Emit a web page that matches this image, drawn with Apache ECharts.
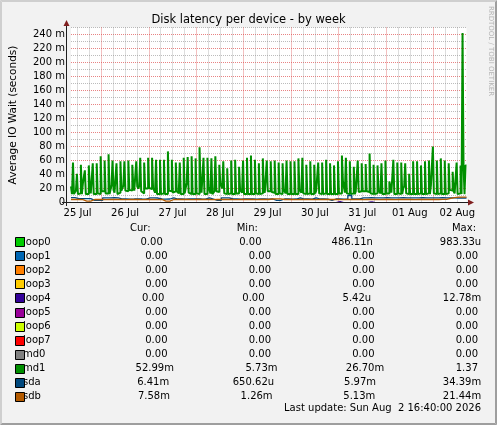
<!DOCTYPE html>
<html>
<head>
<meta charset="utf-8">
<title>Disk latency per device - by week</title>
<script src="https://cdn.jsdelivr.net/npm/echarts@6/dist/echarts.min.js"></script>
<style>
html, body { margin: 0; padding: 0; background: #f2f2f2; }
#chart { width: 497px; height: 425px; }
</style>
</head>
<body>
<div id="chart"></div>
<script>
// x axis runs in hours counted from 25 Jul 00:00
var startHour = 8 + 40 / 60;      // 25 Jul 08:40
var endHour = startHour + 200;    // 02 Aug 16:40
var dayLabels = ['25 Jul', '26 Jul', '27 Jul', '28 Jul', '29 Jul', '30 Jul', '31 Jul', '01 Aug', '02 Aug'];
var yTickValues = [0, 20, 40, 60, 80, 100, 120, 140, 160, 180, 200, 220, 240];
var yMinorValues = [10, 30, 50, 70, 90, 110, 130, 150, 170, 190, 210, 230, 250];

// md1, one value per 30 min (milliseconds)
var md1Step = 0.5;
var md1Values = [
    23,12,57,12, 13,17,41,12, 12,13,54,12, 27,27,46,12, 12,12,53,22,
    13,12,56,12, 12,12,56,13, 12,12,66,16, 16,16,60,13, 12,13,69,12,
    13,25,60,18, 14,13,56,12, 13,14,59,17, 16,24,59,17, 17,16,60,18,
    16,17,54,22, 17,16,59,23, 20,23,64,16, 14,13,57,20, 21,20,64,21,
    20,19,64,21, 20,14,61,12, 12,12,61,12, 12,13,61,12, 12,12,73,17,
    17,16,61,14, 14,16,57,16, 15,13,57,12, 12,12,64,13, 13,28,65,14,
    13,12,66,12, 12,12,63,13, 12,12,79,28, 14,13,64,12, 12,12,64,23,
    18,13,63,12, 13,16,66,16, 16,15,54,28, 28,20,59,13, 12,12,49,12,
    12,13,60,12, 12,12,61,13, 12,13,51,18, 17,14,60,12, 12,12,64,12,
    13,12,67,12, 12,12,61,13, 12,12,56,12, 12,13,63,17, 14,13,60,16,
    16,16,59,15, 16,14,60,12, 12,12,57,13, 12,12,56,19, 18,13,60,12,
    12,12,59,12, 13,12,59,12, 12,12,63,19, 18,14,64,13, 12,12,54,12,
    12,13,59,12, 12,12,54,13, 17,17,57,13, 12,12,57,12, 12,13,61,12,
    12,12,56,12, 13,12,53,12, 12,12,59,13, 12,13,67,31, 31,14,64,13,
    12,12,59,12, 12,13,51,12, 16,16,60,15, 16,16,56,16, 15,16,55,16,
    16,15,70,13, 12,12,54,12, 12,13,53,18, 17,13,56,12, 12,12,60,13,
    13,13,30,30, 14,12,61,12, 12,12,57,13, 12,12,57,12, 20,23,56,13,
    12,12,41,12, 13,12,59,12, 12,12,59,12, 12,13,53,12, 12,12,59,12,
    12,13,60,12, 24,24,80,13, 12,12,60,12, 12,13,63,12, 12,12,60,12,
    12,13,56,18, 18,17,44,16, 13,12,57,12, 13,13,53,12, 242,53,12,53
];

// sda, sdb, loop4: one value per 2 hours (milliseconds)
var diskStep = 2;
var sdaValues = [
    7, 5.5, 5.6, 5.4, 5.5, 3, 3.1, 2.9, 6.7, 6.6,
    6.8, 6.7, 5, 5.1, 4.9, 5, 5.2, 5, 4.9, 6.5,
    6.6, 6.4, 5, 4.9, 5, 6.7, 5, 5.1, 4.9, 5,
    5, 5.2, 5, 4.9, 6.7, 5, 2.9, 3, 6.7, 6.6,
    5, 5.1, 4.9, 5, 5, 5.2, 4.8, 5, 5.1, 4.9,
    5, 3, 3.1, 5, 5.1, 4.9, 5, 6.7, 5, 5.1,
    4.9, 6.7, 5, 5.2, 4.9, 2.9, 5, 5.1, 4.9, 5,
    10, 5, 5.1, 6.7, 6.6, 6.8, 6.7, 6.6, 6.7, 6.8,
    6.7, 6.6, 6.7, 6.8, 6.7, 6.6, 6.7, 6.7, 6.8, 6.6,
    6.7, 6.6, 6.7, 6.8, 6.7, 6.6, 6.5, 6.4, 6.5, 6.4
];
var sdbValues = [
    4.3, 4.4, 4.2, 2, 1.9, 4.3, 4.4, 4.3, 4.2, 4.4,
    4.3, 4.3, 4.5, 4.2, 4.3, 4.4, 4.3, 4.2, 4.3, 4.4,
    4.3, 4.2, 4.4, 2, 1.9, 4.3, 4.4, 4.3, 4.5, 4.3,
    4.2, 4.4, 4.3, 4.3, 4.4, 4.2, 4.3, 4.4, 4.3, 4.5,
    4.3, 4.2, 4.4, 4.3, 4.3, 4.4, 4.2, 4.3, 4.4, 4.3,
    5, 5.2, 5.1, 4.3, 4.4, 4.3, 4.2, 4.4, 4.3, 4.3,
    4.4, 4.2, 4.3, 4.4, 4.3, 4.3, 4.5, 4.3, 4.2, 4.4,
    4.3, 4.3, 4.4, 4.2, 4.3, 4.4, 4.3, 4.2, 4.3, 4.4,
    4.3, 4.2, 4.4, 4.3, 4.3, 4.4, 4.2, 4.3, 4.4, 4.3,
    4.3, 4.4, 4.3, 4.5, 4.6, 6, 7, 7.6, 7.6, 7.6
];
var loop4Values = [
    0, 0, 0, 0, 0, 0, 0, 0, 0, 0,
    0, 0, 0, 0, 0, 0, 0, 0, 0, 0,
    0, 0, 0, 0, 0, 0, 0, 0, 0, 0,
    0, 0, 0, 0, 0, 0, 0, 0, 0, 0,
    0, 0, 0, 0, 0, 0, 0, 0, 0, 0,
    0, 0, 0, 0, 0, 0, 0, 0, 0, 0,
    0, 0, 0, 0, 0, 0, 0, 1.5, 0, 0,
    0, 0, 0, 0, 0, 1.2, 0, 0, 0, 0,
    0, 0, 0, 0, 0, 0, 0, 0, 0, 0,
    0, 0, 0, 0, 0, 0, 0, 0, 0, 0
];

// legend table
var legendNames = ['loop0', 'loop1', 'loop2', 'loop3', 'loop4', 'loop5', 'loop6', 'loop7', 'md0', 'md1', 'sda', 'sdb'];
var legendColors = ['#00cc00', '#0066b3', '#ff8000', '#ffcc00', '#330099', '#990099', '#ccff00', '#ff0000', '#808080', '#008f00', '#00487d', '#b35a00'];
var curVals = ['0.00', '0.00', '0.00', '0.00', '0.00', '0.00', '0.00', '0.00', '0.00', '52.99m', '6.41m', '7.58m'];
var minVals = ['0.00', '0.00', '0.00', '0.00', '0.00', '0.00', '0.00', '0.00', '0.00', '5.73m', '650.62u', '1.26m'];
var avgVals = ['486.11n', '0.00', '0.00', '0.00', '5.42u', '0.00', '0.00', '0.00', '0.00', '26.70m', '5.97m', '5.13m'];
var maxVals = ['983.33u', '0.00', '0.00', '0.00', '12.78m', '0.00', '0.00', '0.00', '0.00', '1.37', '34.39m', '21.44m'];
var headerLabels = ['Cur:', 'Min:', 'Avg:', 'Max:'];
var lastUpdate = 'Last update: Sun Aug  2 16:40:00 2026';

var FONT = '"DejaVu Sans", Verdana, sans-serif';
var measureCtx = document.createElement('canvas').getContext('2d');
measureCtx.font = '10px ' + FONT;
function textWidth(s) { return measureCtx.measureText(s).width; }

// rrdtool style "%6.2lf%s"
function rrdFormat(s) {
    var num = s.match(/^[0-9.]+/)[0];
    var unit = s.slice(num.length) || ' ';
    while (num.length < 6) num = ' ' + num;
    return num + unit;
}

function toPairs(values, step) {
    var pts = values.map(function (v, i) { return [startHour + i * step, v]; });
    pts.push([endHour, values[values.length - 1]]);
    return pts;
}

function lineSeries(name, color, values, step, width) {
    return {
        name: name,
        type: 'line',
        step: 'end',
        data: toPairs(values, step),
        showSymbol: false,
        symbol: 'none',
        silent: true,
        lineStyle: {color: color, width: width || 1},
        itemStyle: {color: color}
    };
}

var midnights = [], noons = [], minorHours = [];
for (var d = 0; d < dayLabels.length; d++) {
    noons.push(12 + d * 24);
    if (d > 0) midnights.push(d * 24);
    [6, 12, 18].forEach(function (h) {
        var t = d * 24 + h;
        if (t > startHour && t < endHour) minorHours.push(t);
    });
}

var majorGrid = {show: true, lineStyle: {color: 'rgba(222,79,79,0.7)', width: 1, type: [1, 1]}};
var minorGrid = {show: true, lineStyle: {color: 'rgba(143,143,143,0.6)', width: 1, type: [1, 1]}};

// graphic: frame, axes, arrows, legend table
var graphics = [
    {type: 'polygon', shape: {points: [[0, 0], [497, 0], [495, 2], [2, 2]]}, style: {fill: '#cfcfcf'}, silent: true},
    {type: 'polygon', shape: {points: [[0, 0], [2, 2], [2, 423], [0, 425]]}, style: {fill: '#cfcfcf'}, silent: true},
    {type: 'polygon', shape: {points: [[0, 425], [2, 423], [495, 423], [497, 425]]}, style: {fill: '#9e9e9e'}, silent: true},
    {type: 'polygon', shape: {points: [[497, 0], [497, 425], [495, 423], [495, 2]]}, style: {fill: '#9e9e9e'}, silent: true},
    {type: 'line', shape: {x1: 62, y1: 202.5, x2: 468, y2: 202.5}, style: {stroke: '#1f1f1f', lineWidth: 1}, z: 100, silent: true},
    {type: 'line', shape: {x1: 66.5, y1: 206, x2: 66.5, y2: 24}, style: {stroke: '#1f1f1f', lineWidth: 1}, z: 100, silent: true},
    {type: 'polygon', shape: {points: [[63.5, 26], [69.5, 26], [66.5, 20]]}, style: {fill: '#801f1f'}, z: 101, silent: true},
    {type: 'polygon', shape: {points: [[468, 199.5], [468, 205.5], [474, 202.5]]}, style: {fill: '#801f1f'}, z: 101, silent: true},
    {type: 'text', x: 491, y: 51, rotation: -Math.PI / 2, silent: true,
        style: {text: 'RRDTOOL / TOBI OETIKER', fill: '#b4b4b4', fontSize: 7, fontFamily: FONT, textAlign: 'center', textVerticalAlign: 'middle'}}
];

function addText(x, y, text, align) {
    graphics.push({type: 'text', x: x, y: y, z: 100, silent: true,
        style: {text: text, fill: '#000', fontSize: 10, fontFamily: FONT, textAlign: align || 'left', textVerticalAlign: 'middle'}});
}

// header, justified between first and last column
var headerY = 228.3, headerLeft = 130, headerRight = 476;
var hw = headerLabels.map(textWidth);
var hGap = (headerRight - headerLeft - hw.reduce(function (a, b) { return a + b; }, 0)) / (headerLabels.length - 1);
var hx = headerLeft;
headerLabels.forEach(function (s, i) { addText(hx, headerY, s); hx += hw[i] + hGap; });

// rows, justified like rrdtool's \j
var rowTop = 242.3, rowH = 14.04, nameEnd = 67.2, rowRight = 481.2;
legendNames.forEach(function (name, r) {
    var y = rowTop + r * rowH;
    addText(23, y, name);
    graphics.push({type: 'rect', z: 101, silent: true, shape: {x: 15.5, y: Math.round(y) - 4.5, width: 9, height: 9},
        style: {fill: legendColors[r], stroke: '#000', lineWidth: 1}});
    var cells = [curVals[r], minVals[r], avgVals[r], maxVals[r]].map(rrdFormat);
    var widths = cells.map(textWidth);
    var gap = (rowRight - nameEnd - widths.reduce(function (a, b) { return a + b; }, 0)) / cells.length;
    var x = nameEnd + gap;
    cells.forEach(function (s, i) {
        var lead = s.length - s.replace(/^ +/, '').length;
        addText(x + textWidth(s.slice(0, lead)), y, s.trim());
        x += widths[i] + gap;
    });
});
addText(481, 408.3, lastUpdate, 'right');

var chart = echarts.init(document.getElementById('chart'));
var option = {
    animation: false,
    backgroundColor: '#f2f2f2',
    textStyle: {fontFamily: FONT},
    title: {
        text: 'Disk latency per device - by week',
        left: 'center',
        top: 14,
        padding: 0,
        textStyle: {fontSize: 11.5, fontWeight: 'normal', color: '#000', fontFamily: FONT}
    },
    grid: {left: 66.5, top: 27.5, width: 400, height: 175, show: true, backgroundColor: '#ffffff', borderWidth: 0},
    xAxis: [{
        type: 'value', min: startHour, max: endHour,
        axisLine: {show: false},
        axisTick: {show: false, customValues: midnights},
        axisLabel: {
            customValues: noons, color: '#000', fontSize: 10, margin: 6, fontFamily: FONT,
            formatter: function (v) { return dayLabels[Math.round((v - 12) / 24)]; }
        },
        splitLine: majorGrid
    }, {
        type: 'value', min: startHour, max: endHour,
        axisLine: {show: false},
        axisTick: {show: false, customValues: minorHours},
        axisLabel: {show: false},
        splitLine: minorGrid
    }],
    yAxis: [{
        type: 'value', min: 0, max: 250,
        name: 'Average IO Wait (seconds)',
        nameLocation: 'middle',
        nameGap: 52,
        nameTextStyle: {color: '#000', fontSize: 10.5, fontFamily: FONT},
        axisLine: {show: false},
        axisTick: {show: false, customValues: yTickValues},
        axisLabel: {
            customValues: yTickValues, color: '#000', fontSize: 10, margin: 6, fontFamily: FONT,
            formatter: function (v) { return v === 0 ? '0' : v + ' m'; }
        },
        splitLine: majorGrid
    }, {
        type: 'value', min: 0, max: 250,
        axisLine: {show: false},
        axisTick: {show: false, customValues: yMinorValues},
        axisLabel: {show: false},
        splitLine: minorGrid
    }],
    series: [
        lineSeries('loop4', '#330099', loop4Values, diskStep),
        lineSeries('md1', '#008f00', md1Values, md1Step, 2),
        lineSeries('sda', '#00487d', sdaValues, diskStep, 1.3),
        lineSeries('sdb', '#b35a00', sdbValues, diskStep, 1.3)
    ],
    graphic: {elements: graphics}
};
chart.setOption(option);
</script>
</body>
</html>
